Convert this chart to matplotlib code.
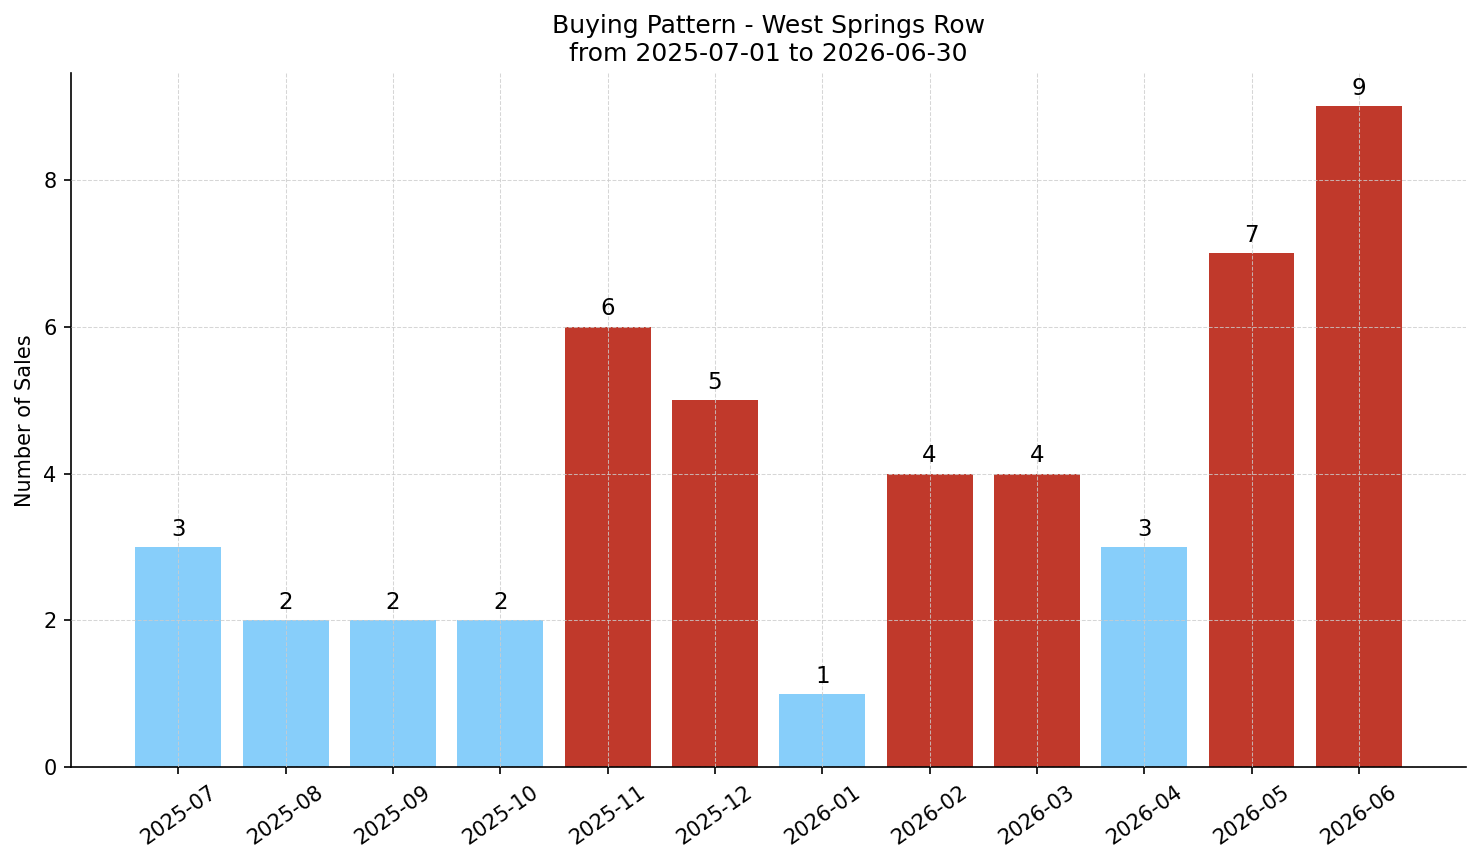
import matplotlib
matplotlib.use("Agg")
import matplotlib.pyplot as plt

plt.rcParams['font.family'] = ['DejaVu Sans']

months = ["2025-07", "2025-08", "2025-09", "2025-10", "2025-11", "2025-12",
          "2026-01", "2026-02", "2026-03", "2026-04", "2026-05", "2026-06"]
sales = [3, 2, 2, 2, 6, 5, 1, 4, 4, 3, 7, 9]

# months at or above the average get the red highlight
avg = sum(sales) / len(sales)
colors = ['#c0392b' if s >= avg else '#87cefa' for s in sales]


def main():
    fig = plt.figure(figsize=(1481 / 150, 863 / 150), dpi=150)
    ax = fig.add_axes([0.048, 0.111, 0.942, 0.804])
    x = list(range(len(months)))
    bars = ax.bar(x, sales, width=0.8, color=colors, zorder=1)
    ax.bar_label(bars, labels=[str(s) for s in sales], padding=3, fontsize=11)

    ax.set_xticks(x)
    ax.set_xticklabels(months, rotation=35, fontsize=10)
    ax.tick_params(axis='y', labelsize=10)
    ax.set_xlim(-1, 12)
    ax.set_ylim(0, max(sales) * 1.05)
    ax.set_ylabel('Number of Sales', fontsize=10)
    ax.set_title('Buying Pattern - West Springs Row\nfrom 2025-07-01 to 2026-06-30', fontsize=12)
    ax.grid(True, linestyle='--', linewidth=0.5, color='#cccccc', alpha=0.8, zorder=2)
    ax.set_axisbelow(False)
    ax.spines['top'].set_visible(False)
    ax.spines['right'].set_visible(False)

    fig.savefig('out.png', dpi=150)


if __name__ == '__main__':
    main()
